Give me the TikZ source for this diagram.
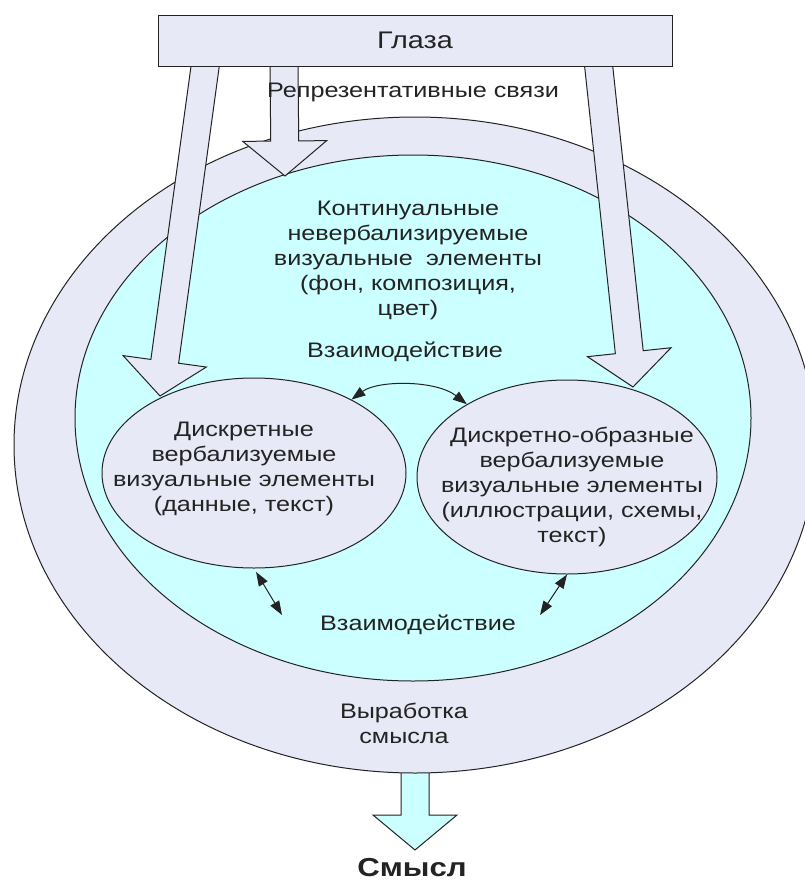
\documentclass[tikz,border=0pt]{standalone}
\usepackage{fontspec}
\setmainfont{Liberation Sans}
\usetikzlibrary{shapes.geometric,arrows.meta,calc}
\definecolor{greyfill}{RGB}{231,234,246}
\definecolor{cyanfill}{RGB}{204,255,255}
\definecolor{inkc}{RGB}{35,35,35}
\tikzset{
  outline/.style={draw=inkc, line width=1pt},
  blk/.style={outline, line join=miter},
  elps/.style={ellipse, outline, inner sep=0pt},
  txt/.style={text=inkc, font=\fontsize{21}{25}\selectfont, align=center, inner sep=0pt, xscale=1.2},
  dbl/.style={line width=1pt, draw=inkc, {Triangle[length=14pt,width=10pt]}-{Triangle[length=14pt,width=10pt]}},
}
% #1 name, #2 start, #3 tip, #4 fill
\newcommand\blkarrow[4]{%
  \coordinate (#1-b) at ($(#3)!35pt!(#2)$);
  \draw[blk, fill=#4] ($(#2)!14pt!90:(#3)$) -- ($(#1-b)!14pt!-90:(#2)$) -- ($(#1-b)!42pt!-90:(#2)$) -- (#3) -- ($(#1-b)!42pt!90:(#2)$) -- ($(#1-b)!14pt!90:(#2)$) -- ($(#2)!14pt!-90:(#3)$) -- cycle;
}
\begin{document}
\begin{tikzpicture}[x=1pt,y=-1pt]
\useasboundingbox (0,0) rectangle (805,886);
\clip (0,0) rectangle (805,886);
% output arrow (behind the outer ellipse)
\coordinate (ms) at (415,740);
\coordinate (mt) at (415,850);
\blkarrow{smysl}{ms}{mt}{cyanfill}
% ellipses
\node[elps, fill=greyfill, minimum width=802pt, minimum height=656pt] (outer) at (415,445) {};
\node[elps, fill=cyanfill, minimum width=676pt, minimum height=526pt] (inner) at (413,418) {};
\node[elps, fill=greyfill, minimum width=304pt, minimum height=190pt] (le) at (254,473) {};
\node[elps, fill=greyfill, minimum width=300pt, minimum height=194pt] (re) at (567,477) {};
% block arrows from the eyes
\coordinate (ls) at (206,60);
\coordinate (lt) at (160,396);
\coordinate (cs) at (284,60);
\coordinate (ct) at (285,176);
\coordinate (rs) at (598,60);
\coordinate (rt) at (633,387);
\blkarrow{la}{ls}{lt}{greyfill}
\blkarrow{ca}{cs}{ct}{greyfill}
\blkarrow{ra}{rs}{rt}{greyfill}
% eyes box
\node[outline, fill=greyfill, minimum width=514pt, minimum height=51pt, inner sep=0pt] (eyes) at (415,40.5) {};
% texts
\node[txt, font=\fontsize{24}{28}\selectfont] (eyest) at (eyes) {Глаза};
\node[txt] (rep) at (413,92) {Репрезентативные связи};
\node[txt] (cont) at (408,260) {Континуальные\\невербализируемые\\визуальные\hspace{0.25em} элементы\\(фон, композиция,\\цвет)};
\node[txt] (vz1) at (405,352) {Взаимодействие};
\node[txt] (let) at (244,469) {Дискретные\\вербализуемые\\визуальные элементы\\(данные, текст)};
\node[txt] (ret) at (572,487) {Дискретно-образные\\вербализуемые\\визуальные элементы\\(иллюстрации, схемы,\\текст)};
\node[txt] (vz2) at (418,625) {Взаимодействие};
\node[txt] (vyr) at (404,723) {Выработка\\смысла};
\node[txt, font=\fontsize{26}{30}\selectfont\bfseries] (sm) at (412,868) {Смысл};
% interaction arrows
\draw[dbl] (le.37) .. controls (378,380) and (436,380) .. (re.144);
\coordinate (c1) at (282,615);
\coordinate (c2) at (540,615);
\draw[dbl, shorten <=4pt] (le.south) -- (c1);
\draw[dbl] (re.south) -- (c2);
\end{tikzpicture}
\end{document}
